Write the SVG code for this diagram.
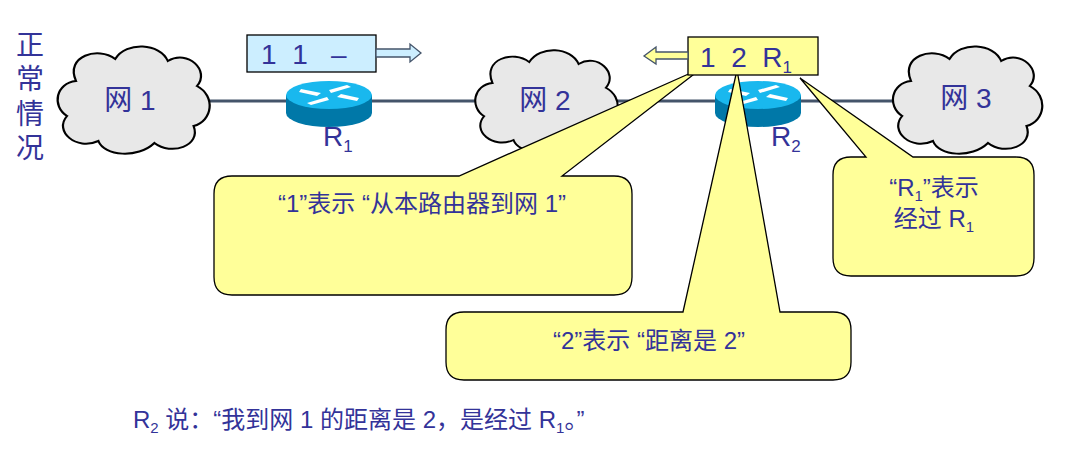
<svg xmlns="http://www.w3.org/2000/svg" width="1083" height="455" viewBox="0 0 1083 455">
<style>
text{font-family:"Liberation Sans","Noto Sans CJK SC",sans-serif;fill:#333399;white-space:pre}
.cloud{fill:#e8e8e8;stroke:#000;stroke-width:2}
.call{fill:#ffff99;stroke:#000;stroke-width:1.3}
.line{stroke:#44546a;stroke-width:3}
</style>
<defs>
<path id="cl" d="M-50,-20 C-60,-45 -30,-55 -15,-42 C-5,-60 25,-58 32,-40 C50,-52 70,-30 58,-15 C75,-5 72,20 55,25 C62,45 35,55 20,42 C5,58 -25,55 -30,40 C-50,50 -70,30 -58,15 C-72,5 -68,-18 -50,-20 Z"/>
<g id="rt">
<path d="M-43,0 L-43,18 A43,14 0 0 0 43,18 L43,0 Z" fill="#0078a8"/>
<ellipse cx="0" cy="0" rx="43" ry="14" fill="#19b8ee"/>
<g fill="#fff">
<path d="M-28,-6 L-8,-2 L-12,1 L-30,-3 Z"/><path d="M28,6 L8,2 L12,-1 L30,3 Z"/>
<path d="M-22,8 L-2,2 L0,5 L-18,10 Z"/><path d="M22,-8 L2,-2 L0,-5 L18,-10 Z"/>
</g>
</g>
</defs>
<g id="title"><text x="30" y="55" font-size="28" text-anchor="middle">正</text><text x="30" y="89" font-size="28" text-anchor="middle">常</text><text x="30" y="124" font-size="28" text-anchor="middle">情</text><text x="30" y="158" font-size="28" text-anchor="middle">况</text></g>
<g id="connectors"><line class="line" x1="200" y1="101" x2="480" y2="101"/><line class="line" x1="610" y1="101" x2="900" y2="101"/></g>
<g id="net1"><use href="#cl" class="cloud" transform="translate(132,101) scale(1.12,1)"/><text x="130" y="110" font-size="28" text-anchor="middle">网 1</text></g>
<g id="net2"><use href="#cl" class="cloud" transform="translate(545,102) scale(1.05,0.95)"/><text x="545" y="110" font-size="28" text-anchor="middle">网 2</text></g>
<g id="net3"><use href="#cl" class="cloud" transform="translate(966,101) scale(1.1,1)"/><text x="966" y="108" font-size="28" text-anchor="middle">网 3</text></g>
<g id="r1"><use href="#rt" transform="translate(329,95)"/><text x="323" y="146" font-size="28">R<tspan font-size="17" dy="6">1</tspan></text></g>
<g id="r2"><use href="#rt" transform="translate(758,95)"/><text x="771" y="146" font-size="28">R<tspan font-size="17" dy="6">2</tspan></text></g>
<g id="msg1"><rect x="247" y="35" width="129" height="37" fill="#cceeff" stroke="#000" stroke-width="1.3"/><text x="261" y="64" font-size="28">1  1   –</text>
<path d="M376,49 L410,49 L410,44 L421,53 L410,62 L410,57 L376,57 Z" fill="#cceeff" stroke="#44546a" stroke-width="1.3"/></g>
<g id="call1"><path class="call" d="M232,176 L459,176 L702,68 L562,176 L614,176 Q632,176 632,194 L632,277 Q632,295 614,295 L232,295 Q214,295 214,277 L214,194 Q214,176 232,176 Z"/><text x="422" y="212" font-size="24" text-anchor="middle">“1”表示 “从本路由器到网 1”</text></g>
<g id="call2"><path class="call" d="M464,312 L683,312 L737,70 L780,312 L833,312 Q851,312 851,330 L851,362 Q851,380 833,380 L464,380 Q446,380 446,362 L446,330 Q446,312 464,312 Z"/><text x="649" y="349" font-size="24" text-anchor="middle">“2”表示 “距离是 2”</text></g>
<g id="call3"><path class="call" d="M851,157 L866,157 L800,78 L913,157 L1016,157 Q1034,157 1034,175 L1034,258 Q1034,276 1016,276 L851,276 Q833,276 833,258 L833,175 Q833,157 851,157 Z"/><text x="934" y="196" font-size="24" text-anchor="middle">“R<tspan font-size="15" dy="5">1</tspan><tspan dy="-5">”表示</tspan></text><text x="934" y="227" font-size="24" text-anchor="middle">经过 R<tspan font-size="15" dy="5">1</tspan></text></g>
<g id="msg2"><rect x="688" y="37" width="130" height="38" fill="#ffff99" stroke="#000" stroke-width="1.3"/><text x="700" y="67" font-size="28">1  2  R<tspan font-size="17" dy="6">1</tspan></text>
<path d="M688,52 L656,52 L656,47 L644,56 L656,64 L656,59 L688,59 Z" fill="#ffff99" stroke="#44546a" stroke-width="1.3"/></g>
<g id="caption"><text x="133" y="428" font-size="24">R<tspan font-size="15" dy="5">2</tspan><tspan dy="-5"> 说：“我到网 1 的距离是 2，是经过 R</tspan><tspan font-size="15" dy="5">1</tspan><tspan dy="-5">。”</tspan></text></g>
</svg>
